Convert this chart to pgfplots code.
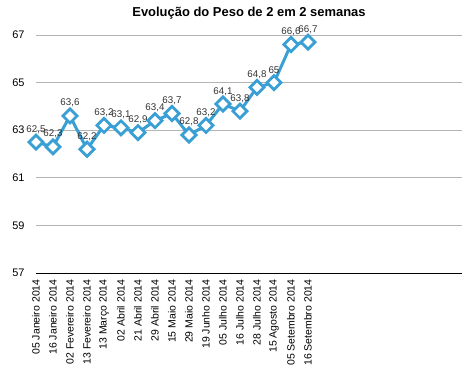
\documentclass[border=0pt]{standalone}
\usepackage{fontspec}
\setmainfont{Liberation Sans}
\usepackage{pgfplots}
\pgfplotsset{compat=1.18}
\usetikzlibrary{calc}
\definecolor{lineblue}{HTML}{3A9FD4}
\definecolor{gridgray}{HTML}{B4B4B4}
\begin{document}
\begin{tikzpicture}
\begin{axis}[
  scale only axis,
  width=426bp, height=238bp,
  xmin=0, xmax=25.06,
  ymin=57, ymax=67,
  ytick={57,59,61,63,65,67},
  xtick={0,...,16},
  xticklabels={05 Janeiro 2014,16 Janeiro 2014,02 Fevereiro 2014,13 Fevereiro 2014,13 Março 2014,02 Abril 2014,21 Abril 2014,29 Abril 2014,15 Maio 2014,29 Maio 2014,19 Junho 2014,05 Julho 2014,16 Julho 2014,28 Julho 2014,15 Agosto 2014,05 Setembro 2014,16 Setembro 2014},
  x tick label style={rotate=90, anchor=east, font=\fontsize{10.5}{11}\selectfont, xshift=-3bp},
  y tick label style={font=\fontsize{11}{12}\selectfont, xshift=-8bp},
  /pgf/number format/assume math mode=true,
  ymajorgrids,
  grid style={gridgray, line width=0.8bp},
  major tick length=0pt,
  axis line style={draw=none},
  clip=false,
  title={\bfseries Evolução do Peso de 2 em 2 semanas},
  title style={font=\fontsize{13}{14}\selectfont, yshift=6bp},
  nodes near coords,
  nodes near coords style={font=\fontsize{9.8}{10}\selectfont, text=black!80, /pgf/number format/use comma, /pgf/number format/fixed, /pgf/number format/precision=1, yshift=4bp},
  yticklabel style={/pgf/number format/fixed},
]
\draw[black, line width=0.8bp] (rel axis cs:0,0) -- (rel axis cs:1,0);
\coordinate (ll) at (rel axis cs:0,0);
\addplot[lineblue, line width=3bp, mark=square*, mark size=5bp,
  mark options={rotate=45, fill=white, draw=lineblue, line width=2.8bp}]
coordinates {
(0,62.5)(1,62.3)(2,63.6)(3,62.2)(4,63.2)(5,63.1)(6,62.9)(7,63.4)(8,63.7)(9,62.8)(10,63.2)(11,64.1)(12,63.8)(13,64.8)(14,65)(15,66.6)(16,66.7)
};
\end{axis}
\pgfresetboundingbox
\path ($(ll)+(-36bp,-113bp)$) rectangle ($(ll)+(435bp,273bp)$);
\end{tikzpicture}
\end{document}
